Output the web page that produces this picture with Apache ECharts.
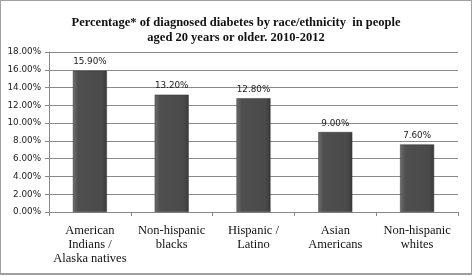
<!DOCTYPE html>
<html>
<head>
<meta charset="utf-8">
<script src="https://cdn.jsdelivr.net/npm/echarts@6/dist/echarts.min.js"></script>
<style>
  html, body { margin: 0; padding: 0; background: #fff; }
  #container { width: 470px; height: 272px; border: 1px solid #a0a0a0; border-bottom-width: 2px; }
</style>
</head>
<body>
<div id="container"></div>
<script>
  let categories = ['American\nIndians /\nAlaska natives', 'Non-hispanic\nblacks', 'Hispanic /\nLatino', 'Asian\nAmericans', 'Non-hispanic\nwhites'];
  let values = [15.9, 13.2, 12.8, 9.0, 7.6];

  let dom = document.getElementById('container');
  let myChart = echarts.init(dom);

  let barColor = new echarts.graphic.LinearGradient(0, 0, 1, 0, [
    { offset: 0, color: '#6e6e6e' },
    { offset: 0.15, color: '#4f4f4f' },
    { offset: 0.85, color: '#4a4a4a' },
    { offset: 1, color: '#3a3a3a' }
  ]);

  let option = {
    animation: false,
    title: {
      text: 'Percentage* of diagnosed diabetes by race/ethnicity  in people\naged 20 years or older. 2010-2012',
      left: 'center',
      top: 9,
      textStyle: {
        fontFamily: 'Liberation Serif',
        fontWeight: 'bold',
        fontSize: 12.5,
        lineHeight: 15,
        color: '#111'
      }
    },
    grid: { left: 48, right: 13, top: 51, bottom: 61 },
    xAxis: {
      type: 'category',
      data: categories,
      axisLine: { lineStyle: { color: '#888' } },
      axisTick: { show: true, length: 4, lineStyle: { color: '#888' } },
      axisLabel: {
        interval: 0,
        margin: 12,
        fontFamily: 'Liberation Serif',
        fontSize: 12.5,
        lineHeight: 14,
        color: '#111'
      }
    },
    yAxis: {
      type: 'value',
      min: 0,
      max: 18,
      interval: 2,
      axisLine: { show: true, lineStyle: { color: '#888' } },
      axisTick: { show: true, length: 4, lineStyle: { color: '#888' } },
      splitLine: { lineStyle: { color: '#8a8a8a' } },
      axisLabel: {
        margin: 8,
        fontFamily: 'DejaVu Sans',
        fontSize: 8.8,
        color: '#222',
        formatter: function (v) { return v.toFixed(2) + '%'; }
      }
    },
    series: [{
      type: 'bar',
      data: values,
      barWidth: 34,
      itemStyle: {
        color: barColor,
        borderColor: '#333',
        borderWidth: 0.5
      },
      label: {
        show: true,
        position: 'top',
        distance: 4,
        fontFamily: 'DejaVu Sans',
        fontSize: 8.8,
        color: '#222',
        formatter: function (p) { return p.value.toFixed(2) + '%'; }
      }
    }]
  };
  myChart.setOption(option);
</script>
</body>
</html>
